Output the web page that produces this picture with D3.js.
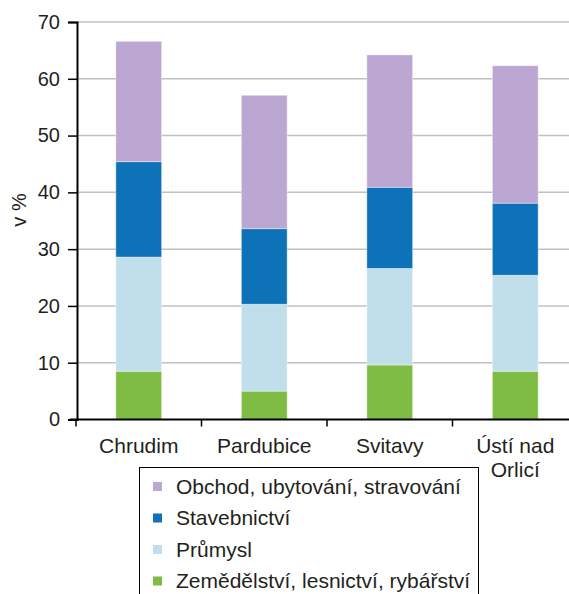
<!DOCTYPE html>
<html>
<head>
<meta charset="utf-8">
<script src="https://cdn.jsdelivr.net/npm/d3@7"></script>
<style>
  body { margin: 0; background: #fff; }
  svg text { font-family: "Liberation Sans", Arial, sans-serif; fill: #231f20; }
</style>
</head>
<body>
<div class="chart"></div>
<script>
(function () {
    "use strict";

    var regions = ["Chrudim", "Pardubice", "Svitavy", "Ústí nad Orlicí"];
    var regionLines = [["Chrudim"], ["Pardubice"], ["Svitavy"], ["Ústí nad", "Orlicí"]];

    // stacked from the bottom up
    var sectors = ["Zemědělství, lesnictví, rybářství", "Průmysl", "Stavebnictví", "Obchod, ubytování, stravování"];
    var colors = ["#7ebc43", "#c0dfeb", "#0e72b9", "#bba7d1"];

    var zemedelstvi = [8.5, 5.0, 9.6, 8.5];
    var prumysl = [20.1, 15.3, 17.0, 16.9];
    var stavebnictvi = [16.8, 13.3, 14.3, 12.7];
    var obchod = [21.2, 23.5, 23.3, 24.2];

    var yTicks = [0, 10, 20, 30, 40, 50, 60, 70];

    var width = 569, height = 594;

    var rows = regions.map(function (r, i) {
        return { region: r, s0: zemedelstvi[i], s1: prumysl[i], s2: stavebnictvi[i], s3: obchod[i] };
    });

    var svg = d3.select("div.chart").append("svg")
        .attr("width", width)
        .attr("height", height);

    var x = d3.scaleBand().domain(regions).range([76, 578]).padding(0);
    var y = d3.scaleLinear().domain([0, 70]).range([419.5, 22]);

    var stack = d3.stack().keys(["s0", "s1", "s2", "s3"]);
    var series = stack(rows);

    // gridlines
    svg.append("g")
        .selectAll("line")
        .data(yTicks.filter(function (d) { return d > 0; }))
        .enter()
        .append("line")
        .attr("x1", 77).attr("x2", width)
        .attr("y1", function (d) { return y(d); })
        .attr("y2", function (d) { return y(d); })
        .attr("stroke", "#c0c0c0")
        .attr("stroke-width", 1.5);

    // bars
    var barW = x.bandwidth() * 0.365;
    svg.append("g")
        .selectAll("g")
        .data(series)
        .enter()
        .append("g")
        .attr("fill", function (d, i) { return colors[i]; })
        .selectAll("rect")
        .data(function (d) { return d; })
        .enter()
        .append("rect")
        .attr("x", function (d) { return x(d.data.region) + x.bandwidth() / 2 - barW / 2; })
        .attr("width", barW)
        .attr("y", function (d) { return y(d[1]); })
        .attr("height", function (d) { return y(d[0]) - y(d[1]); })
        .attr("stroke", "#ffffff")
        .attr("stroke-opacity", 0.5)
        .attr("stroke-width", 0.8);

    // y axis
    var yAxis = svg.append("g")
        .attr("transform", "translate(77,0)")
        .call(d3.axisLeft(y).tickValues(yTicks).tickSize(9).tickPadding(8));
    yAxis.select(".domain").attr("stroke", "#000").attr("stroke-width", 2);
    yAxis.selectAll(".tick line").attr("stroke", "#000").attr("stroke-width", 1.5);
    yAxis.selectAll(".tick text")
        .style("font-size", "20px")
        .style("font-family", "Liberation Sans, Arial, sans-serif")
        .attr("fill", "#231f20");

    // x axis
    var xAxis = svg.append("g")
        .attr("transform", "translate(0," + y(0) + ")")
        .call(d3.axisBottom(x).tickValues([]).tickSizeOuter(0));
    xAxis.select(".domain").attr("stroke", "#000").attr("stroke-width", 2)
        .attr("d", "M70,0H" + width);

    // category boundary ticks
    var bounds = regions.map(function (r) { return x(r); });
    svg.append("g")
        .selectAll("line")
        .data(bounds)
        .enter()
        .append("line")
        .attr("x1", function (d) { return d; })
        .attr("x2", function (d) { return d; })
        .attr("y1", y(0))
        .attr("y2", y(0) + 7)
        .attr("stroke", "#000")
        .attr("stroke-width", 1.5);

    // x labels
    var labels = svg.append("g")
        .selectAll("text")
        .data(regions)
        .enter()
        .append("text")
        .attr("text-anchor", "middle")
        .style("font-size", "21px")
        .attr("transform", function (d) {
            return "translate(" + (x(d) + x.bandwidth() / 2) + "," + 453 + ")";
        });
    labels.selectAll("tspan")
        .data(function (d, i) { return regionLines[i]; })
        .enter()
        .append("tspan")
        .attr("x", 0)
        .attr("dy", function (d, i) { return i === 0 ? 0 : 24; })
        .text(function (d) { return d; });

    // y label
    svg.append("text")
        .attr("transform", "translate(26,210) rotate(-90)")
        .attr("text-anchor", "middle")
        .style("font-size", "20px")
        .text("v %");

    // legend
    var legend = svg.append("g");
    legend.append("rect")
        .attr("x", 139.5).attr("y", 467.5)
        .attr("width", 339).attr("height", 140)
        .attr("fill", "#fff")
        .attr("stroke", "#000")
        .attr("stroke-width", 1);

    var legendOrder = d3.range(sectors.length).reverse();
    var item = legend.selectAll("g.item")
        .data(legendOrder)
        .enter()
        .append("g")
        .attr("class", "item")
        .attr("transform", function (d, i) { return "translate(153," + (486.5 + i * 31.5) + ")"; });
    item.append("rect")
        .attr("x", 0).attr("y", -4.5)
        .attr("width", 9).attr("height", 9)
        .attr("fill", function (d) { return colors[d]; });
    item.append("text")
        .attr("x", 23)
        .attr("dy", "0.35em")
        .style("font-size", "21px")
        .text(function (d) { return sectors[d]; });
})();
</script>
</body>
</html>
